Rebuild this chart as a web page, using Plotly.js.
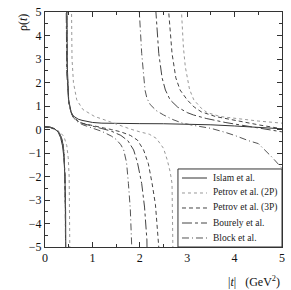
<!DOCTYPE html>
<html><head><meta charset="utf-8">
<script src="https://cdn.plot.ly/plotly-3.0.1.min.js"></script>
<style>html,body{margin:0;padding:0;background:#fff}#c{width:291px;height:290px}</style>
</head><body><div id="c"></div>
<script>
// Series: |t| (GeV^2) and rho(t); null separates branches between poles
const islamT = [0,0.1,0.2,0.28,0.33,0.37,0.4,0.42,0.435,0.445,0.455,null,
  0.445,0.455,0.46,0.47,0.5,0.55,0.6,0.7,0.78,0.9,1.0,1.2,1.5,2.0,2.5,3.0,3.5,4.0,4.5,5.0];
const islamR = [0.13,0.11,0.04,-0.12,-0.35,-0.7,-1.2,-2.0,-3.5,-6,-12,null,
  12,6,5,2.7,1.25,0.75,0.57,0.44,0.39,0.33,0.3,0.27,0.255,0.25,0.245,0.23,0.2,0.15,0.09,0.03];

const pet2T = [0,0.1,0.2,0.3,0.4,0.46,0.49,0.51,0.53,0.545,null,
  0.54,0.55,0.57,0.6,0.67,0.8,0.92,1.05,1.2,1.4,1.6,1.8,2.0,2.2,2.35,2.5,2.58,2.64,2.68,2.71,2.73,null,
  2.86,2.88,2.92,2.96,3.05,3.14,3.3,3.42,3.7,4.1,4.5,5.0];
const pet2R = [0.1,0.07,0.02,-0.08,-0.3,-0.69,-1.2,-2.0,-5,-10,null,
  9,5,3.0,2.0,1.26,0.85,0.69,0.55,0.45,0.3,0.15,0.02,-0.1,-0.2,-0.38,-0.8,-1.3,-1.8,-2.3,-5,-10,null,
  10,5,3.5,2.67,1.7,1.26,0.9,0.72,0.55,0.45,0.36,0.27];

const pet3T = [0,0.1,0.2,0.3,0.35,0.38,0.4,0.42,0.43,0.44,null,
  0.44,0.45,0.47,0.5,0.55,0.6,0.7,0.8,1.0,1.2,1.4,1.6,1.8,1.95,2.08,2.18,2.26,2.33,2.4,2.43,null,
  2.59,2.61,2.68,2.76,2.85,3.0,3.15,3.3,3.6,4.0,4.5,5.0];
const pet3R = [0.1,0.08,0.02,-0.15,-0.38,-0.65,-1.0,-2.0,-3.5,-8,null,
  9,5,2.4,1.2,0.72,0.52,0.35,0.26,0.16,0.08,0.0,-0.1,-0.25,-0.45,-0.87,-1.45,-2.3,-3.2,-5,-9,null,
  10,5,3.24,2.2,1.68,1.26,0.95,0.75,0.55,0.38,0.2,0.03];

const bouT = [0,0.1,0.2,0.3,0.35,0.38,0.4,0.42,0.43,0.44,null,
  0.43,0.44,0.46,0.5,0.55,0.6,0.7,0.8,1.0,1.2,1.4,1.6,1.75,1.87,1.95,2.04,2.1,2.15,2.18,null,
  2.32,2.34,2.4,2.47,2.54,2.64,2.8,3.0,3.13,3.4,3.8,4.2,4.6,5.0];
const bouR = [0.11,0.09,0.03,-0.14,-0.37,-0.63,-1.0,-2.0,-3.5,-8,null,
  9,5,2.4,1.15,0.72,0.52,0.34,0.25,0.13,0.04,-0.07,-0.25,-0.48,-0.87,-1.4,-2.3,-3.3,-4.7,-9,null,
  10,5,3.24,2.2,1.68,1.26,0.95,0.72,0.62,0.47,0.3,0.16,0.03,-0.1];

const blockT = [0,0.1,0.2,0.3,0.35,0.38,0.4,0.42,0.43,0.44,null,
  0.44,0.45,0.47,0.5,0.55,0.6,0.7,0.8,0.9,1.0,1.2,1.4,1.5,1.6,1.66,1.72,1.76,1.8,1.83,1.86,null,
  1.97,1.99,2.04,2.11,2.15,2.22,2.35,2.5,2.7,2.9,3.2,3.5,3.8,4.0,4.3,4.5,4.8,5.0];
const blockR = [0.12,0.1,0.03,-0.13,-0.36,-0.62,-1.0,-2.0,-3.5,-8,null,
  9,5,2.3,1.2,0.7,0.5,0.3,0.2,0.12,0.06,-0.08,-0.28,-0.42,-0.65,-0.87,-1.4,-2.3,-3.4,-5,-9,null,
  10,5,3.24,1.68,1.33,1.06,0.8,0.62,0.42,0.27,0.15,0.05,-0.12,-0.25,-0.48,-0.6,-1.2,-1.65];

const names = ["Islam et al.","Petrov et al. (2P)","Petrov et al. (3P)","Bourely et al.","Block et al."];
const colors = ['#333','#999','#444','#444','#555'];
const dashes = ['solid','dot','4px,3px','10px,3px,3px,3px','7px,3px,1px,3px'];
const seriesT = [islamT,pet2T,pet3T,bouT,blockT];
const seriesR = [islamR,pet2R,pet3R,bouR,blockR];

const F = "Liberation Serif, DejaVu Serif, serif";
const data = seriesT.map((t,i)=>({x:t,y:seriesR[i],name:names[i],type:'scatter',mode:'lines',
  connectgaps:false,showlegend:false,line:{color:colors[i],width:1,dash:dashes[i]}}));

const ax = {
  showgrid:false, zeroline:false, showline:true, linecolor:'#333', linewidth:1,
  mirror:'allticks', ticks:'inside', ticklen:5, tickcolor:'#333', tickwidth:1,
  minor:{dtick:0.5, ticks:'inside', ticklen:3, tickcolor:'#333'},
  tickfont:{family:F,size:12,color:'#111'}, dtick:1
};

// custom legend (paper coordinates)
const legX0 = 0.561, legY1 = 0.332, sampX0 = 0.578, sampX1 = 0.6835, textX = 0.70;
const legRowY = [0.2936,0.2298,0.166,0.1021,0.0383];
const shapes = [{type:'rect',xref:'paper',yref:'paper',x0:legX0,x1:1,y0:0,y1:legY1,
  fillcolor:'#fff',line:{color:'#333',width:1},layer:'above'}];
const annotations = [
  {text:'ρ(<i>t</i>)',xref:'paper',yref:'paper',x:-0.095,y:1.0,xanchor:'center',yanchor:'top',
   textangle:-90,showarrow:false,font:{family:F,size:12,color:'#111'}},
  {text:'|<i>t</i>|   (GeV<sup>2</sup>)',xref:'paper',yref:'paper',x:1.0,y:-0.105,xanchor:'right',yanchor:'top',
   showarrow:false,font:{family:F,size:12,color:'#111'}}
];
names.forEach((n,i)=>{
  shapes.push({type:'line',xref:'paper',yref:'paper',x0:sampX0,x1:sampX1,y0:legRowY[i],y1:legRowY[i],
    line:{color:colors[i],width:1,dash:dashes[i]},layer:'above'});
  annotations.push({text:n,xref:'paper',yref:'paper',x:textX,y:legRowY[i],xanchor:'left',yanchor:'middle',
    showarrow:false,font:{family:F,size:9.5,color:'#222'}});
});

const layout = {
  width:291,height:290,
  margin:{l:45,r:9,t:12,b:43},
  paper_bgcolor:'#fff',plot_bgcolor:'#fff',
  xaxis:Object.assign({},ax,{range:[0,5],tick0:0}),
  yaxis:Object.assign({},ax,{range:[-5,5],tick0:0}),
  showlegend:false,
  shapes:shapes, annotations:annotations
};
Plotly.newPlot('c',data,layout,{displayModeBar:false,staticPlot:true});
</script></body></html>
